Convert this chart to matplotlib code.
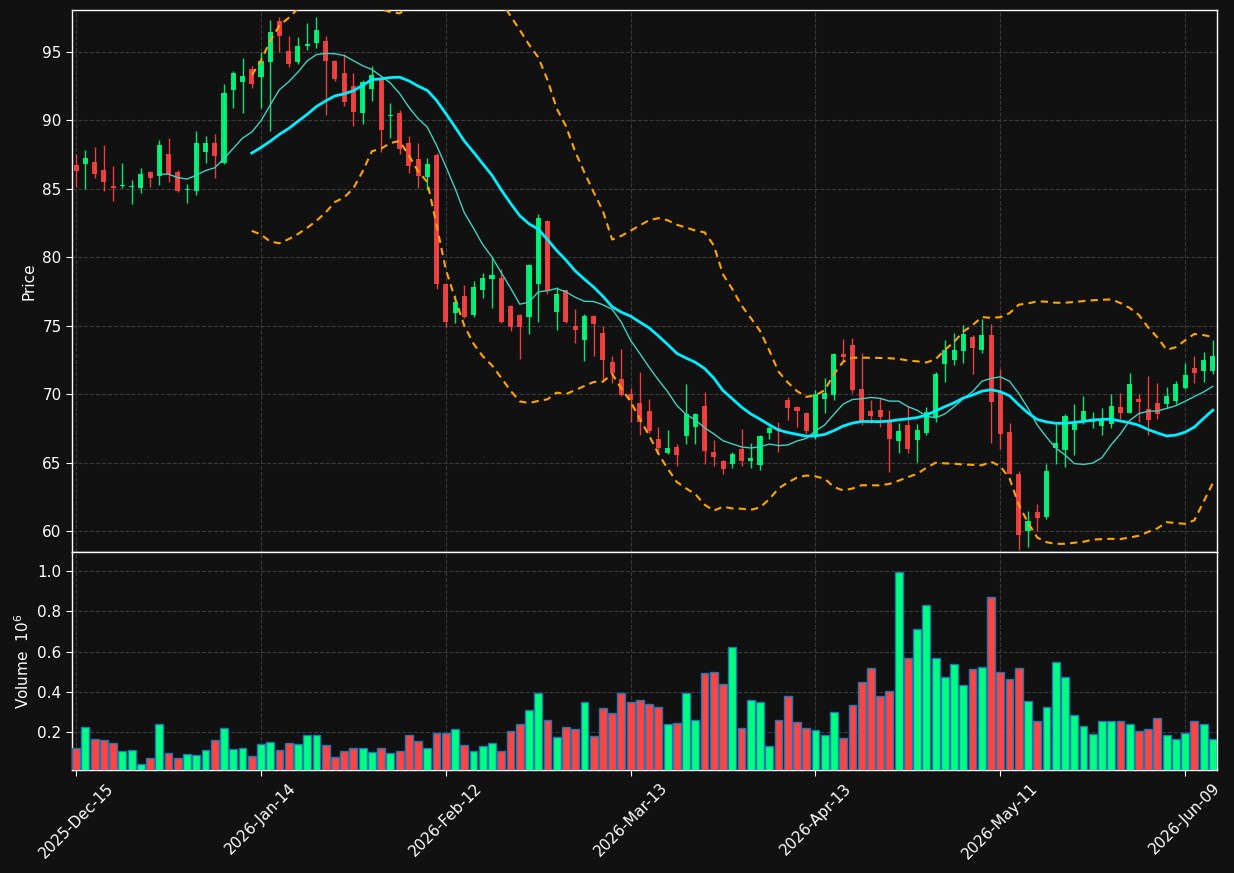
import numpy as np
import pandas as pd
import matplotlib
matplotlib.use("Agg")
import matplotlib.pyplot as plt

# ---------------- data ----------------
holidays = ["2025-12-25", "2026-01-01", "2026-01-19", "2026-02-16", "2026-04-03", "2026-05-25"]
dates = pd.bdate_range("2025-12-15", "2026-06-12")
dates = dates[~dates.isin(pd.to_datetime(holidays))]

opens = [86.78, 86.80, 86.97, 86.41, 85.24, 85.19, 85.12, 85.05, 86.24, 85.92,
         87.55, 86.27, 84.90, 84.88, 87.68, 88.38, 86.87, 92.20, 92.83, 93.78,
         93.20, 94.29, 97.29, 95.10, 94.25, 95.44, 95.63, 95.83, 94.37, 93.49,
         92.54, 90.52, 92.27, 93.10, 90.33, 90.57, 88.38, 87.21, 85.85, 87.51,
         78.02, 75.97, 77.18, 75.80, 77.65, 78.45, 78.50, 76.46, 75.80, 75.68,
         78.06, 82.65, 76.04, 77.62, 75.02, 73.93, 75.75, 74.49, 72.38, 71.12,
         70.05, 69.37, 68.78, 66.74, 65.72, 66.16, 66.98, 67.64, 69.12, 65.79,
         65.11, 64.94, 66.01, 65.13, 64.84, 67.18, 67.57, 69.59, 69.08, 68.64,
         67.03, 69.68, 69.98, 72.94, 73.60, 70.39, 68.78, 68.86, 68.05, 66.59,
         67.76, 66.67, 67.15, 68.32, 72.24, 72.51, 73.16, 74.18, 73.24, 74.33,
         70.10, 67.25, 64.21, 60.00, 61.39, 61.02, 66.10, 65.93, 67.39, 68.05,
         67.98, 67.68, 67.85, 69.07, 68.66, 69.68, 68.95, 69.37, 69.32, 69.54,
         70.49, 71.93, 71.71, 71.71]
highs = [87.55, 87.85, 88.09, 88.24, 86.70, 86.90, 85.66, 86.53, 86.30, 88.58,
         88.72, 86.39, 85.39, 89.26, 88.89, 89.01, 92.66, 93.60, 94.56, 93.98,
         94.98, 97.36, 97.53, 96.19, 96.07, 97.09, 97.58, 96.19, 94.42, 94.85,
         93.49, 92.98, 93.98, 93.27, 91.30, 90.77, 88.89, 88.36, 87.26, 87.60,
         78.10, 77.26, 77.99, 78.25, 78.83, 80.00, 79.17, 76.50, 75.90, 79.50,
         83.20, 82.70, 77.86, 77.65, 76.24, 75.87, 75.80, 75.02, 72.82, 73.30,
         70.46, 71.63, 69.64, 67.62, 67.37, 66.35, 70.73, 68.66, 70.19, 66.64,
         65.20, 65.82, 67.47, 66.42, 67.06, 67.66, 67.96, 69.83, 69.15, 68.70,
         70.29, 71.22, 73.04, 74.01, 74.14, 73.04, 69.61, 69.76, 68.83, 67.93,
         69.15, 67.81, 69.08, 71.63, 73.94, 74.45, 75.06, 74.31, 75.47, 75.11,
         71.82, 67.88, 64.40, 61.51, 61.95, 64.88, 67.85, 68.59, 69.27, 69.88,
         68.68, 68.98, 70.00, 70.07, 71.54, 70.00, 71.32, 70.80, 70.51, 70.98,
         72.29, 72.80, 73.10, 73.98]
lows = [85.17, 85.00, 85.80, 84.85, 84.10, 85.10, 83.90, 84.68, 85.17, 85.29,
        85.49, 84.76, 83.95, 84.56, 86.87, 85.78, 86.80, 90.91, 90.52, 92.35,
        90.91, 89.26, 94.98, 93.91, 94.10, 95.15, 95.29, 90.40, 92.91, 91.06,
        89.60, 89.74, 91.40, 87.70, 88.72, 87.55, 86.14, 85.07, 84.93, 77.70,
        74.90, 75.24, 75.56, 75.68, 77.01, 76.29, 75.19, 74.59, 72.57, 74.39,
        75.27, 77.33, 74.68, 75.19, 73.74, 72.40, 72.77, 70.87, 70.83, 69.85,
        67.99, 67.01, 67.20, 65.62, 65.67, 64.74, 66.35, 66.40, 64.89, 64.74,
        64.21, 64.65, 64.74, 64.65, 64.48, 66.76, 65.82, 68.10, 67.64, 67.13,
        66.72, 68.61, 69.56, 72.43, 70.07, 67.74, 67.93, 67.64, 64.36, 65.69,
        65.69, 65.09, 67.01, 68.00, 70.92, 72.12, 72.26, 71.46, 72.99, 66.47,
        66.03, 64.16, 58.66, 58.85, 60.05, 60.90, 64.88, 64.71, 65.54, 67.85,
        67.56, 67.00, 67.51, 68.17, 68.61, 67.98, 67.00, 68.17, 69.02, 69.27,
        70.37, 70.85, 70.93, 71.46]
closes = [86.29, 87.29, 86.07, 85.49, 85.05, 85.32, 85.24, 86.12, 85.78, 88.24,
          86.10, 84.88, 84.98, 88.36, 88.38, 87.38, 92.03, 93.49, 93.27, 92.64,
          94.37, 96.48, 96.14, 94.10, 95.46, 95.56, 96.63, 94.32, 93.05, 91.33,
          90.60, 92.83, 93.35, 89.28, 90.43, 87.90, 86.65, 85.92, 86.82, 78.02,
          75.27, 76.75, 75.68, 77.84, 78.50, 78.71, 75.29, 74.88, 74.88, 79.44,
          82.86, 77.57, 77.33, 75.29, 74.66, 75.75, 75.10, 72.52, 71.55, 69.98,
          69.56, 67.98, 67.32, 66.11, 66.08, 65.60, 68.54, 68.54, 65.89, 65.45,
          64.57, 65.64, 65.13, 65.35, 66.96, 67.54, 67.45, 69.00, 68.78, 67.32,
          70.00, 70.10, 72.94, 72.75, 70.32, 68.05, 68.42, 68.35, 66.76, 67.32,
          66.01, 67.40, 68.69, 71.48, 73.21, 73.24, 74.40, 73.41, 74.33, 69.46,
          67.13, 64.21, 59.71, 60.73, 60.95, 64.39, 66.44, 68.41, 68.00, 68.78,
          68.12, 68.17, 69.15, 68.66, 70.73, 69.46, 68.15, 68.59, 69.88, 70.73,
          71.41, 71.59, 72.49, 72.80]
volumes = [0.12, 0.225, 0.165, 0.16, 0.147, 0.105, 0.11, 0.04, 0.07, 0.24,
           0.095, 0.07, 0.09, 0.085, 0.11, 0.16, 0.22, 0.115, 0.12, 0.08,
           0.14, 0.15, 0.11, 0.145, 0.14, 0.185, 0.185, 0.135, 0.075, 0.105,
           0.12, 0.12, 0.10, 0.12, 0.095, 0.105, 0.185, 0.155, 0.12, 0.195,
           0.195, 0.215, 0.135, 0.105, 0.13, 0.145, 0.105, 0.205, 0.24, 0.31,
           0.395, 0.26, 0.175, 0.225, 0.215, 0.35, 0.18, 0.32, 0.295, 0.395,
           0.35, 0.36, 0.34, 0.325, 0.24, 0.245, 0.395, 0.26, 0.495, 0.50,
           0.44, 0.625, 0.22, 0.36, 0.35, 0.13, 0.26, 0.38, 0.25, 0.22,
           0.21, 0.185, 0.30, 0.17, 0.335, 0.45, 0.52, 0.38, 0.405, 0.995,
           0.57, 0.71, 0.83, 0.57, 0.475, 0.54, 0.435, 0.515, 0.525, 0.87,
           0.50, 0.465, 0.52, 0.355, 0.255, 0.325, 0.55, 0.475, 0.285, 0.23,
           0.19, 0.255, 0.255, 0.255, 0.24, 0.205, 0.215, 0.27, 0.185, 0.165,
           0.195, 0.255, 0.24, 0.165]  # in units of 1e6

tick_idx = [0, 20, 40, 60, 80, 100, 120]
tick_labels = [dates[i].strftime("%Y-%b-%d") for i in tick_idx]

# ---------------- derived ----------------
o = np.array(opens); h = np.array(highs); l = np.array(lows); c = np.array(closes)
v = np.array(volumes)
x = np.arange(len(c))
cs = pd.Series(c)
mav10 = cs.rolling(10).mean()
mav20 = cs.rolling(20).mean()
std20 = cs.rolling(20).std(ddof=0)
upper = mav20 + 2 * std20
lower = mav20 - 2 * std20

UP = "#00ff80"
DOWN = "#ff4444"
BG = "#111111"
up = c >= o
colors = np.where(up, UP, DOWN)

# ---------------- figure ----------------
fig = plt.figure(figsize=(12.34, 8.73), dpi=100, facecolor=BG)
L, R = 72 / 1234, 1217 / 1234
ax = fig.add_axes([L, 1 - 552 / 873, R - L, (552 - 10) / 873])
axv = fig.add_axes([L, 1 - 770 / 873, R - L, (770 - 552) / 873], sharex=ax)

for a in (ax, axv):
    a.set_facecolor(BG)
    for s in a.spines.values():
        s.set_color("white")
        s.set_linewidth(1.0)
    a.grid(True, color="#3a3a3a", linestyle="--", linewidth=0.8)
    a.set_axisbelow(True)
    a.tick_params(colors="white", labelsize=11, length=4)

# candles
ax.vlines(x, l, h, colors=colors, linewidth=1.0, alpha=0.9, zorder=2)
body = np.where(np.abs(c - o) < 0.06, 0.06, c - o)
bottom = np.where(np.abs(c - o) < 0.06, np.minimum(o, c) - 0.03 + 0.0, o)
bottom = np.where(np.abs(c - o) < 0.06, (o + c) / 2 - 0.03, o)
ax.bar(x, body, bottom=bottom, width=0.55, color=colors, alpha=0.9,
       linewidth=0, zorder=3)

# moving averages & bands
ax.plot(x, mav10, color="#40d0c0", linewidth=1.0, zorder=4)
ax.plot(x, mav20, color="#00eeff", linewidth=2.0, zorder=4)
ax.plot(x, upper, color="#ffa500", linewidth=1.5, linestyle=(0, (3.5, 2.5)), zorder=4)
ax.plot(x, lower, color="#ffa500", linewidth=1.5, linestyle=(0, (3.5, 2.5)), zorder=4)

ax.set_ylim(58.48, 98.07)
ax.set_xlim(-0.45, len(c) - 0.55)
ax.set_yticks([60, 65, 70, 75, 80, 85, 90, 95])
ax.set_ylabel("Price", color="white", fontsize=11)
plt.setp(ax.get_xticklabels(), visible=False)
ax.tick_params(axis="x", length=0)

# volume
axv.bar(x, v, width=0.85, color=colors, edgecolor="#1f77b4", linewidth=1.0, zorder=3)
axv.set_ylim(0.3 * v.min(), 1.1 * v.max())
axv.set_yticks([0.2, 0.4, 0.6, 0.8, 1.0])
axv.set_ylabel("Volume  $10^{6}$", color="white", fontsize=11)
axv.set_xticks(tick_idx)
axv.set_xticklabels(tick_labels, rotation=45, fontsize=11, color="white")
axv.set_xlim(-0.45, len(c) - 0.55)

fig.savefig("out.png", dpi=100, facecolor=BG)
